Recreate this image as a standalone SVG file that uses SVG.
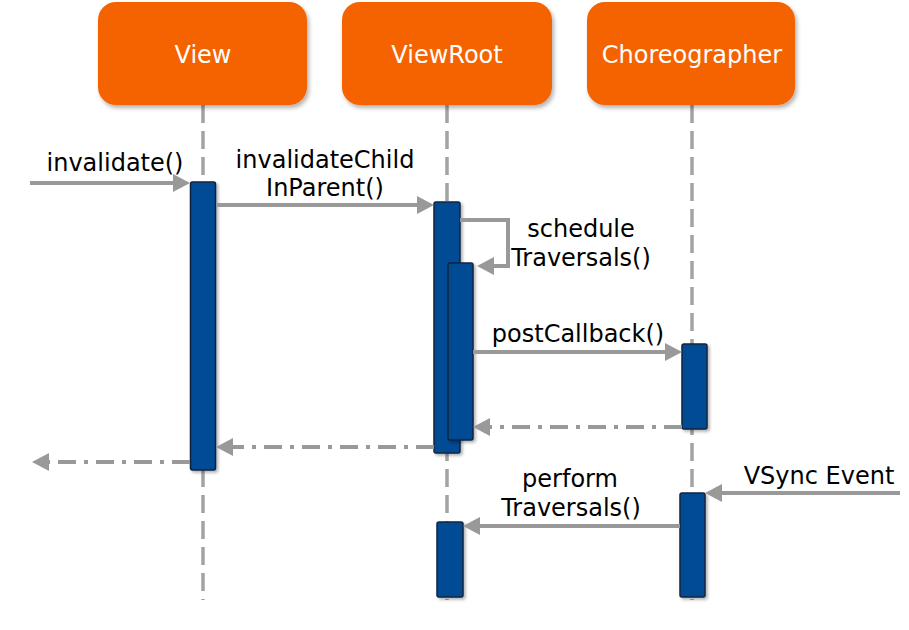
<svg xmlns="http://www.w3.org/2000/svg" width="909" height="630" viewBox="0 0 909 630">
  <defs>
    <filter id="sh" x="-10%" y="-10%" width="125%" height="125%">
      <feDropShadow dx="2" dy="3" stdDeviation="2" flood-color="#000" flood-opacity="0.3"/>
    </filter>
    <filter id="sh2" x="-30%" y="-10%" width="170%" height="120%">
      <feDropShadow dx="2" dy="2" stdDeviation="1.5" flood-color="#000" flood-opacity="0.3"/>
    </filter>
    <marker id="ah" markerUnits="userSpaceOnUse" markerWidth="17" markerHeight="18" refX="6" refY="9" orient="auto">
      <path d="M0,0 L17,9 L0,18 z" fill="#999999"/>
    </marker>
    <style>
      .head { fill: #F56300; filter: url(#sh); }
      .htxt { font-family: "DejaVu Sans", sans-serif; font-size: 24px; fill: #ffffff; text-anchor: middle; }
      .life { stroke: #a3a3a3; stroke-width: 3.5; stroke-dasharray: 18 8; fill: none; }
      .act { fill: #034C93; stroke: #0d2340; stroke-width: 1.5; filter: url(#sh2); }
      .msg { stroke: #999999; stroke-width: 4; fill: none; marker-end: url(#ah); }
      .ret { stroke: #999999; stroke-width: 4; fill: none; stroke-dasharray: 18 8 4 8; marker-end: url(#ah); }
      .lbl { font-family: "DejaVu Sans", sans-serif; font-size: 24px; fill: #000000; text-anchor: middle; }
    </style>
  </defs>
  <rect width="909" height="630" fill="#ffffff"/>

  <g id="lifelines">
    <line class="life" x1="203" y1="105" x2="203" y2="600"/>
    <line class="life" x1="447" y1="105" x2="447" y2="600"/>
    <line class="life" x1="692" y1="105" x2="692" y2="600"/>
  </g>

  <g id="view">
    <rect class="head" x="98" y="2" width="209" height="103" rx="18"/>
    <text class="htxt" x="203" y="63">View</text>
  </g>
  <g id="viewroot">
    <rect class="head" x="342" y="2" width="210" height="103" rx="18"/>
    <text class="htxt" x="447" y="63">ViewRoot</text>
  </g>
  <g id="choreographer">
    <rect class="head" x="587" y="2" width="208" height="103" rx="18"/>
    <text class="htxt" x="692" y="63">Choreographer</text>
  </g>

  <g id="activations">
    <rect class="act" x="190.5" y="182" width="25" height="288" rx="2"/>
    <rect class="act" x="434" y="202" width="26" height="251" rx="2"/>
    <rect class="act" x="448" y="263" width="25" height="177" rx="2"/>
    <rect class="act" x="682" y="344" width="25" height="85" rx="2"/>
    <rect class="act" x="680" y="493" width="25" height="104" rx="2"/>
    <rect class="act" x="437" y="522" width="26" height="75" rx="2"/>
  </g>

  <g id="connectors">
    <line class="msg" x1="30" y1="183" x2="179" y2="183"/>
    <line class="msg" x1="216" y1="205" x2="423" y2="205"/>
    <polyline class="msg" points="460,220 508,220 508,266 488,266"/>
    <line class="msg" x1="473" y1="352" x2="671" y2="352"/>
    <line class="ret" x1="682" y1="427" x2="484" y2="427"/>
    <line class="ret" x1="434" y1="447" x2="227" y2="447"/>
    <line class="ret" x1="190" y1="462" x2="43" y2="462"/>
    <line class="msg" x1="900" y1="493" x2="716" y2="493"/>
    <line class="msg" x1="680" y1="526" x2="474" y2="526"/>
  </g>

  <g id="labels">
    <text class="lbl" x="115" y="171">invalidate()</text>
    <text class="lbl" x="325" y="168">invalidateChild</text>
    <text class="lbl" x="325" y="196">InParent()</text>
    <text class="lbl" x="581" y="237">schedule</text>
    <text class="lbl" x="581" y="266">Traversals()</text>
    <text class="lbl" x="578" y="342">postCallback()</text>
    <text class="lbl" x="819" y="484">VSync Event</text>
    <text class="lbl" x="570" y="487">perform</text>
    <text class="lbl" x="571" y="516">Traversals()</text>
  </g>
</svg>
